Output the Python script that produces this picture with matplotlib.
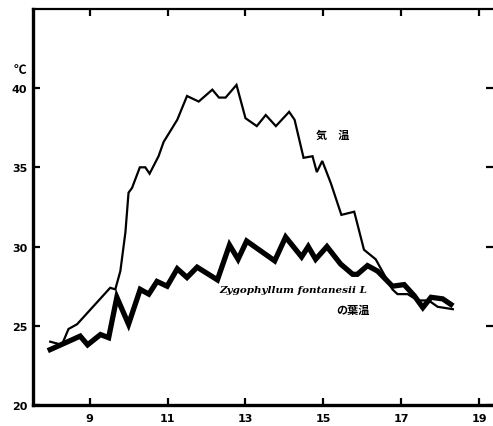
import matplotlib
matplotlib.use("Agg")
import matplotlib.pyplot as plt

# Air temperature (thin line)
air_hours = [7.99, 8.29, 8.46, 8.68, 9.53, 9.66, 9.79, 9.92, 10.0, 10.09, 10.29, 10.43,
             10.54, 10.77, 10.9, 11.25, 11.5, 11.8, 12.15, 12.32, 12.49, 12.77, 13.0,
             13.29, 13.52, 13.78, 14.12, 14.26, 14.49, 14.72, 14.83, 14.97, 15.19, 15.46,
             15.79, 16.04, 16.34, 16.77, 16.9, 17.16, 17.42, 17.7, 17.93, 18.32]
air_temp = [24.0, 23.8, 24.8, 25.1, 27.4, 27.3, 28.45, 30.9, 33.4, 33.7, 35.0, 35.0,
            34.6, 35.7, 36.6, 38.0, 39.5, 39.15, 39.9, 39.4, 39.4, 40.2, 38.1,
            37.6, 38.3, 37.6, 38.5, 38.0, 35.6, 35.7, 34.7, 35.4, 34.0, 32.0,
            32.2, 29.8, 29.2, 27.3, 27.0, 27.0, 26.6, 26.6, 26.2, 26.05]

# Leaf temperature of Zygophyllum fontanesii (thick line)
leaf_hours = [7.99, 8.76, 8.95, 9.28, 9.49, 9.7, 10.0, 10.3, 10.52, 10.73, 10.99, 11.25,
              11.5, 11.76, 12.28, 12.59, 12.81, 13.03, 13.75, 14.03, 14.44, 14.61, 14.8,
              15.09, 15.44, 15.75, 15.87, 16.13, 16.39, 16.77, 17.07, 17.33, 17.55,
              17.76, 18.06, 18.27]
leaf_temp = [23.5, 24.35, 23.8, 24.45, 24.25, 26.8, 25.1, 27.3, 27.0, 27.8, 27.5, 28.6,
             28.05, 28.7, 27.9, 30.1, 29.2, 30.35, 29.1, 30.6, 29.35, 30.0, 29.2,
             30.0, 28.9, 28.25, 28.25, 28.8, 28.45, 27.5, 27.6, 26.9, 26.15,
             26.8, 26.7, 26.35]

x_ticks = [9, 11, 13, 15, 17, 19]
y_ticks = [20, 25, 30, 35, 40]

fig = plt.figure(figsize=(4.93, 4.27), dpi=100)
ax = fig.add_axes([0.067, 0.049, 0.933, 0.928])

ax.plot(air_hours, air_temp, color="black", lw=1.6, solid_joinstyle="miter")
ax.plot(leaf_hours, leaf_temp, color="black", lw=3.8, solid_joinstyle="miter")

ax.set_xlim(7.55, 19.35)
ax.set_ylim(20, 45)
ax.set_xticks(x_ticks)
ax.set_yticks(y_ticks)
ax.tick_params(axis="x", direction="in", top=True, bottom=True, length=5, width=1.6,
               labelsize=8, pad=6)
ax.tick_params(axis="y", direction="in", left=True, right=True, length=5, width=1.6,
               labelsize=8, pad=4)
for lab in ax.get_xticklabels() + ax.get_yticklabels():
    lab.set_fontweight("bold")

ax.spines["right"].set_visible(False)
ax.spines["left"].set_linewidth(2.4)
ax.spines["bottom"].set_linewidth(2.4)
ax.spines["top"].set_linewidth(1.6)

cjk = ["Noto Sans CJK JP", "DejaVu Sans"]
ax.text(7.22, 41.2, "℃", fontsize=9, fontweight="bold", ha="center", va="center",
        family=cjk, clip_on=False)
ax.text(15.25, 37.08, "気　温", fontsize=8, fontweight="bold", ha="center", va="center",
        family=cjk)
ax.text(14.22, 27.3, "Zygophyllum fontanesii L", fontsize=7.5, fontweight="bold",
        style="italic", family="DejaVu Serif", ha="center", va="center")
ax.text(15.76, 26.04, "の葉温", fontsize=8, fontweight="bold", ha="center", va="center",
        family=cjk)

fig.savefig("out.png", dpi=100)
